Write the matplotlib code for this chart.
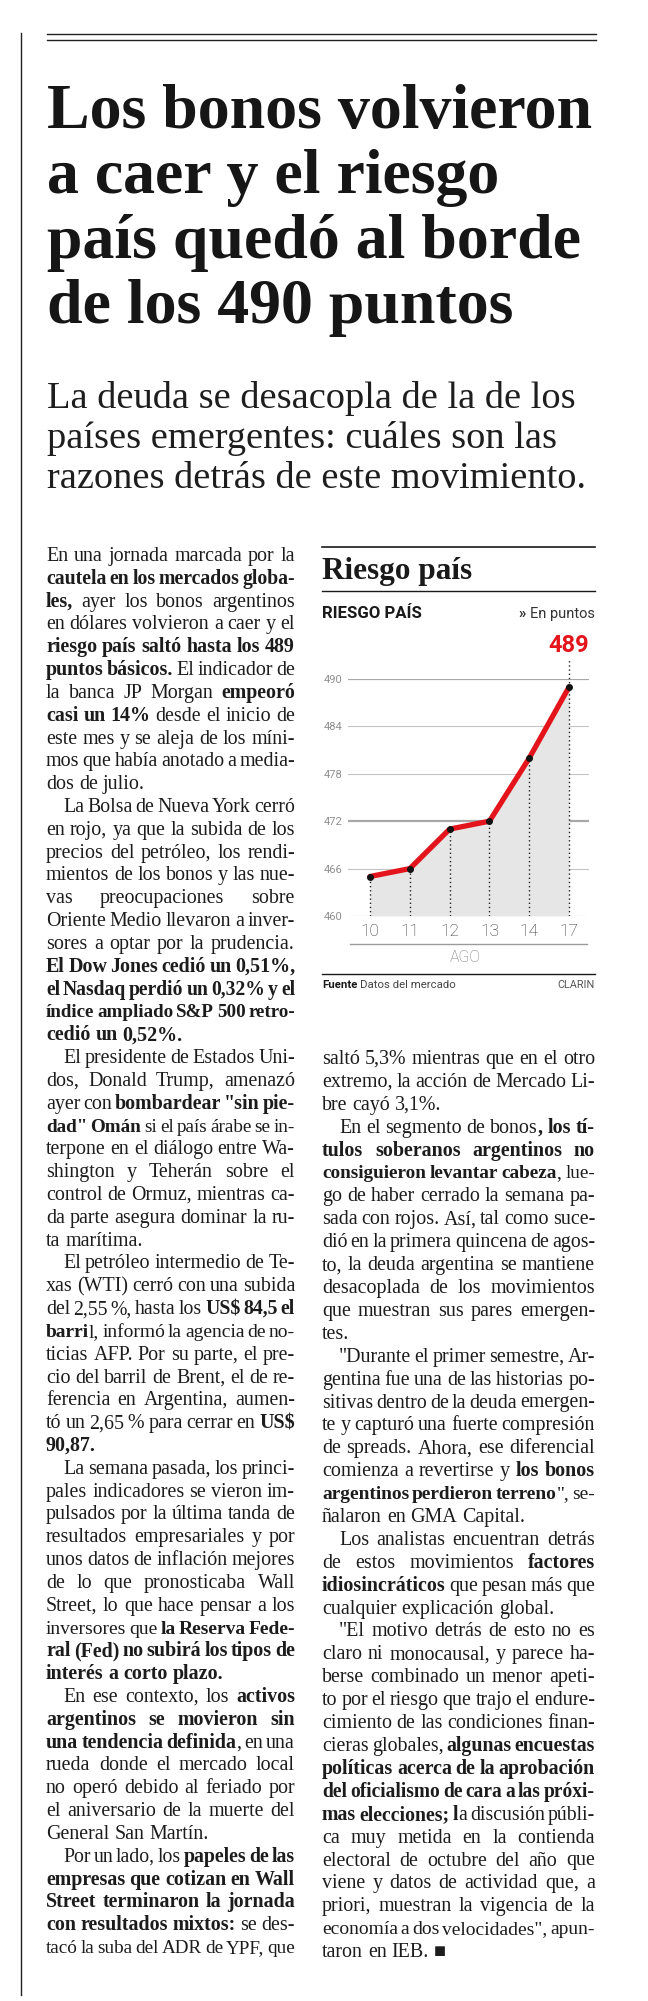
import numpy as np
import matplotlib
matplotlib.use("Agg")
import matplotlib.pyplot as plt
from matplotlib.font_manager import FontProperties

W, H = 648, 2001
SERIF = ["Liberation Serif", "DejaVu Serif"]
SANS = ["Roboto", "DejaVu Sans"]

# datos del grafico
dias = ["10", "11", "12", "13", "14", "17"]
riesgo = [465, 466, 471, 472, 480, 489]
y_ticks = [460, 466, 472, 478, 484, 490]
y_marcadas = [472, 490]

titulo = ["Los bonos volvieron", "a caer y el riesgo",
          "país quedó al borde", "de los 490 puntos"]
bajada = ["La deuda se desacopla de la de los",
          "países emergentes: cuáles son las",
          "razones detrás de este movimiento."]

# texto: "¶" = comienzo de parrafo con sangria, ** ** = negrita
col_izq = [
    "En una jornada marcada por la",
    "**cautela en los mercados globa-**",
    "**les,** ayer los bonos argentinos",
    "en dólares volvieron a caer y el",
    "**riesgo país saltó hasta los 489**",
    "**puntos básicos.** El indicador de",
    "la banca JP Morgan **empeoró**",
    "**casi  un 14%** desde el inicio de",
    "este mes y se aleja de los míni-",
    "mos que había anotado a media-",
    "dos de julio.",
    "¶La Bolsa de Nueva York cerró",
    "en rojo, ya que la subida de los",
    "precios del petróleo, los rendi-",
    "mientos de los bonos y las nue-",
    "vas preocupaciones sobre",
    "Oriente Medio llevaron a inver-",
    "sores a optar por la prudencia.",
    "**El Dow Jones cedió un 0,51%,**",
    "**el Nasdaq perdió un 0,32% y el**",
    "**índice ampliado S&P 500 retro-**",
    "**cedió un 0,52%.**",
    "¶El presidente de Estados Uni-",
    "dos, Donald Trump, amenazó",
    "ayer con **bombardear \"sin pie-**",
    "**dad\" Omán** si el país árabe se in-",
    "terpone en el diálogo entre Wa-",
    "shington y Teherán sobre el",
    "control de Ormuz, mientras ca-",
    "da parte asegura dominar la ru-",
    "ta marítima.",
    "¶El petróleo intermedio de Te-",
    "xas (WTI) cerró con una subida",
    "del 2,55 %, hasta los **US$ 84,5 el**",
    "**barri**l, informó la agencia de no-",
    "ticias AFP. Por su parte, el pre-",
    "cio del barril de Brent, el de re-",
    "ferencia en Argentina, aumen-",
    "tó un 2,65 % para cerrar en **US$**",
    "**90,87.**",
    "¶La semana pasada, los princi-",
    "pales indicadores se vieron im-",
    "pulsados por la última tanda de",
    "resultados empresariales y por",
    "unos datos de inflación mejores",
    "de lo que pronosticaba Wall",
    "Street, lo que hace pensar a los",
    "inversores que **la Reserva Fede-**",
    "**ral (Fed) no subirá los tipos de**",
    "**interés a corto plazo.**",
    "¶En ese contexto, los **activos**",
    "**argentinos se movieron sin**",
    "**una tendencia definida**, en una",
    "rueda donde el mercado local",
    "no operó debido al feriado por",
    "el aniversario de la muerte del",
    "General San Martín.",
    "¶Por un lado, los **papeles de las**",
    "**empresas que cotizan en Wall**",
    "**Street terminaron la jornada**",
    "**con resultados mixtos:** se des-",
    "tacó la suba del ADR de YPF, que",
]

col_der = [
    "saltó 5,3% mientras que en el otro",
    "extremo, la acción de Mercado Li-",
    "bre cayó 3,1%.",
    "¶En el segmento de bonos**, los tí-**",
    "**tulos soberanos argentinos no**",
    "**consiguieron levantar cabeza**, lue-",
    "go de haber cerrado la semana pa-",
    "sada con rojos. Así, tal como suce-",
    "dió en la primera quincena de agos-",
    "to, la deuda argentina se mantiene",
    "desacoplada de los movimientos",
    "que muestran sus pares emergen-",
    "tes.",
    "¶\"Durante el primer semestre, Ar-",
    "gentina fue una de las historias po-",
    "sitivas dentro de la deuda emergen-",
    "te y capturó una fuerte compresión",
    "de spreads. Ahora, ese diferencial",
    "comienza a revertirse y **los bonos**",
    "**argentinos perdieron terreno**\", se-",
    "ñalaron en GMA Capital.",
    "¶Los analistas encuentran detrás",
    "de estos movimientos **factores**",
    "**idiosincráticos** que pesan más que",
    "cualquier explicación global.",
    "¶\"El motivo detrás de esto no es",
    "claro ni monocausal, y parece ha-",
    "berse combinado un menor apeti-",
    "to por el riesgo que trajo el endure-",
    "cimiento de las condiciones finan-",
    "cieras globales, **algunas encuestas**",
    "**políticas acerca de la aprobación**",
    "**del oficialismo de cara a las próxi-**",
    "**mas elecciones; l**a discusión públi-",
    "ca muy metida en la contienda",
    "electoral de octubre del año que",
    "viene y datos de actividad que, a",
    "priori, muestran la vigencia de la",
    "economía a dos velocidades\", apun-",
    "taron en IEB. ■",
]

fig = plt.figure(figsize=(W / 100, H / 100), dpi=100)
fig.patch.set_facecolor("white")
renderer = fig.canvas.get_renderer()

page = fig.add_axes([0, 0, 1, 1])
page.set_xlim(0, W)
page.set_ylim(H, 0)
page.axis("off")


def ancho(s, fp):
    return renderer.get_text_width_height_descent(s, fp, ismath=False)[0]


def fserif(size, bold=False):
    return FontProperties(family=SERIF, size=size, weight="bold" if bold else "normal")


def fsans(size, weight="normal"):
    return FontProperties(family=SANS, size=size, weight=weight)


def ajustar(s, fp, target):
    # tamano de fuente para que el texto mida target px
    return fp.get_size_in_points() * target / ancho(s, fp)


# filetes superiores y linea vertical
page.plot([47, 596], [34, 34], color="#222222", lw=1.0)
page.plot([47, 596], [40, 40], color="#222222", lw=1.0)
page.plot([21, 21], [33, 1995], color="#222222", lw=1.0)

# titulo
t_size = ajustar(titulo[0], fserif(40, True), 545)
for i, linea in enumerate(titulo):
    page.text(47, 128 + 65 * i, linea, fontproperties=fserif(t_size, True),
              color="#161616", va="baseline", ha="left")

# bajada
b_size = ajustar(bajada[2], fserif(24), 539)
for i, linea in enumerate(bajada):
    page.text(47, 408 + 40 * i, linea, fontproperties=fserif(b_size),
              color="#1e1e1e", va="baseline", ha="left")


def palabras(linea):
    partes = linea.split("**")
    chars = []
    for k, p in enumerate(partes):
        for ch in p:
            chars.append((ch, k % 2 == 1))
    res, cur = [], []
    for ch, b in chars:
        if ch == " ":
            if cur:
                res.append(cur)
                cur = []
        elif cur and cur[-1][1] == b:
            cur[-1] = (cur[-1][0] + ch, b)
        else:
            cur.append((ch, b))
    if cur:
        res.append(cur)
    return res


def medir(ws, size):
    return [sum(ancho(t, fserif(size, b)) for t, b in w) for w in ws]


def espacio(size):
    return ancho("a a", fserif(size)) - ancho("aa", fserif(size))


SANGRIA = 17
REF = 13.0


def preparar(lineas, x0, x1, fin_col):
    out = []
    for i, linea in enumerate(lineas):
        sang = linea.startswith("¶")
        ws = palabras(linea.lstrip("¶"))
        xa = x0 + (SANGRIA if sang else 0)
        ultima = (i + 1 < len(lineas) and lineas[i + 1].startswith("¶")) or \
                 (i + 1 == len(lineas) and fin_col)
        out.append((ws, xa, x1 - xa, ultima))
    return out


izq = preparar(col_izq, 46, 295, False)
der = preparar(col_der, 322, 595, True)

# tamano de cuerpo: mediana de lo que pide cada linea justificada
pedidos = []
sp_ref = espacio(REF)
for ws, xa, disp, ultima in izq + der:
    if ultima or len(ws) < 2:
        continue
    nat = sum(medir(ws, REF)) + sp_ref * (len(ws) - 1)
    pedidos.append(REF * disp / nat)
CUERPO = float(np.median(pedidos))


def componer(lineas, y0, paso):
    for j, (ws, xa, disp, ultima) in enumerate(lineas):
        size = CUERPO
        anchos = medir(ws, size)
        sp = espacio(size)
        n = len(ws)
        minimo = sum(anchos) + 0.6 * sp * (n - 1)
        if minimo > disp:
            size = size * disp / minimo
            anchos = medir(ws, size)
            sp = espacio(size)
        if ultima or n < 2:
            gap = sp
        else:
            gap = (disp - sum(anchos)) / (n - 1)
        x = xa
        y = y0 + paso * j
        for w, wa in zip(ws, anchos):
            xx = x
            for t, b in w:
                fp = fserif(size, b)
                page.text(xx, y, t, fontproperties=fp, color="#1c1c1c",
                          va="baseline", ha="left")
                xx += ancho(t, fp)
            x += wa + gap


componer(izq, 561, 22.82)
componer(der, 1064, 22.9)

# recuadro del grafico
page.plot([322, 595], [547, 547], color="#1a1a1a", lw=1.2)
rp_size = ajustar("Riesgo país", fserif(22, True), 150)
page.text(322, 579, "Riesgo país", fontproperties=fserif(rp_size, True),
          color="#1a1a1a", va="baseline", ha="left")
page.plot([322, 595], [591, 591], color="#1a1a1a", lw=1.0)
rs = ajustar("RIESGO PAÍS", fsans(11, "bold"), 100)
page.text(322, 618, "RIESGO PAÍS", fontproperties=fsans(rs, "bold"),
          color="#1a1a1a", va="baseline", ha="left")
page.text(595, 618, "En puntos", fontproperties=fsans(10.5), color="#333333",
          va="baseline", ha="right")
page.text(595 - ancho("En puntos", fsans(10.5)) - 4, 618, "»",
          fontproperties=fsans(10.5, "bold"), color="#333333",
          va="baseline", ha="right")

ax = fig.add_axes([348 / W, 1 - 916 / H, (589 - 348) / W, (916 - 679) / H])
ax.set_facecolor("none")
ax.set_xlim(-0.553, 5.5)
ax.set_ylim(460, 490)
for s in ax.spines.values():
    s.set_visible(False)

xs = np.arange(len(dias))
for v in y_ticks:
    if v in y_marcadas:
        ax.axhline(v, color="#a8a8a8", lw=1.6, zorder=0)
    else:
        ax.axhline(v, color="#c4c4c4", lw=0.8, zorder=0)
ax.fill_between(xs, riesgo, 460, color="#e6e6e6", lw=0, zorder=1)
ax.vlines(xs, 460, riesgo, colors="#222222", lw=1.0,
          linestyles=(0, (1, 2)), zorder=2)
ax.vlines(xs[-1], riesgo[-1], riesgo[-1] + 3.6, colors="#222222", lw=1.0,
          linestyles=(0, (1, 2)), zorder=2, clip_on=False)
ax.plot(xs, riesgo, color="#e3141b", lw=3.8, solid_capstyle="round",
        solid_joinstyle="round", zorder=3, clip_on=False)
ax.scatter(xs, riesgo, s=16, color="#111111", zorder=4, clip_on=False)
ax.annotate(str(riesgo[-1]), xy=(xs[-1], riesgo[-1]), xytext=(0, 35),
            textcoords="offset pixels", ha="center", va="baseline",
            fontproperties=fsans(17, "bold"), color="#e3141b",
            annotation_clip=False)

ax.set_yticks(y_ticks)
ax.set_yticklabels([str(v) for v in y_ticks])
ax.set_xticks(xs)
ax.set_xticklabels(dias)
ax.tick_params(axis="y", length=0, pad=4, labelcolor="#8f8f8f")
ax.tick_params(axis="x", length=0, pad=6, labelcolor="#333333")
for lab in ax.get_yticklabels():
    lab.set_fontproperties(fsans(8))
for lab in ax.get_xticklabels():
    lab.set_fontproperties(fsans(12.5, "light"))

page.plot([350, 587], [944, 944], color="#9a9a9a", lw=1.0)
page.text(465, 962, "AGO", fontproperties=fsans(11.5, "light"), color="#7a7a7a",
          va="baseline", ha="center")
page.plot([322, 595], [974, 974], color="#1a1a1a", lw=1.0)
fte = fsans(8.2, "bold")
page.text(322, 988, "Fuente", fontproperties=fte, color="#1a1a1a",
          va="baseline", ha="left")
page.text(322 + ancho("Fuente ", fte), 988, "Datos del mercado",
          fontproperties=fsans(8.2), color="#444444", va="baseline", ha="left")
page.text(595, 988, "CLARIN", fontproperties=fsans(7.8), color="#555555",
          va="baseline", ha="right")

fig.savefig("out.png", dpi=100, facecolor="white")
